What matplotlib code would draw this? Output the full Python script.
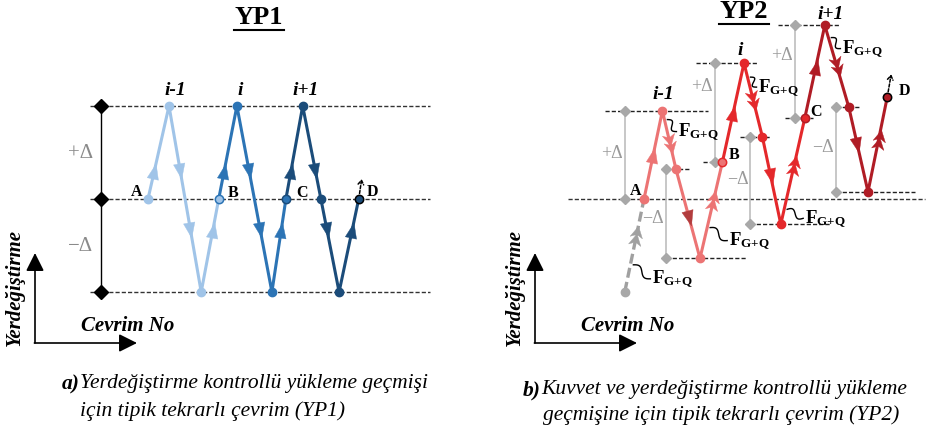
import numpy as np
import matplotlib.pyplot as plt
from matplotlib.path import Path
from matplotlib.markers import MarkerStyle
from matplotlib.transforms import Affine2D, offset_copy

plt.rcParams['font.family'] = ['Liberation Serif', 'DejaVu Serif']
plt.rcParams['mathtext.fontset'] = 'custom'
plt.rcParams['mathtext.rm'] = 'Liberation Serif'
plt.rcParams['mathtext.bf'] = 'Liberation Serif:bold'

W, H = 926, 431

# YP1 - yerdegistirme kontrollu: t = cevrim, d = yerdegistirme (Delta cinsinden)
yp1_t = [0.00, 0.30, 0.76, 1.01, 1.27, 1.77, 1.97, 2.21, 2.73, 3.01]
yp1_d = [0, 1, -1, 0, 1, -1, 0, 1, -1, 0]
yp1_levels = [1, 0, -1]
yp1_arrow_lv = [0.30, -0.33]
yp1_colors = ['#a0c4e8', '#2c74b5', '#1b4c7a']
yp1_points = ['A', 'B', 'C', 'D']
yp1_peaks = ['i-1', 'i', 'i+1']

# YP2 - kuvvet ve yerdegistirme kontrollu
yp2_t = [0.00, 0.23, 0.40, 0.70, 0.98, 1.25, 1.48, 1.71, 2.01, 2.26, 2.56, 2.80, 3.04]
yp2_d = [0.00, 0.98, 0.33, -0.66, 0.41, 1.51, 0.69, -0.28, 0.90, 1.93, 1.02, 0.08, 1.13]
yp2_start = (-0.24, -1.03)
yp2_colors = ['#ec7474', '#e4282b', '#b01c25']
yp2_kind = ['d', 'f', 'd', 'f'] * 3          # d: yerdegistirme, f: kuvvet kontrollu
yp2_arrow_frac = [0.5, 0.55, 0.55, 0.6, 0.5, 0.5, 0.45, 0.55, 0.55, 0.5, 0.45, 0.55]
yp2_ref_t = [-0.24, 0.275, 0.89, 1.33, 1.89, 2.40]
yp2_ref_top = [(-0.49, 0.80), (0.275, 0.59), (0.65, 1.43), (1.20, 1.58), (1.68, 2.45), (2.40, 2.70)]
yp2_ref_bot = [None, (0.275, 1.275), (0.74, 1.03), (1.33, 2.34), (1.76, 2.11), (2.40, 3.39)]
yp2_ref_lbl = [0.53, 0.46, 0.77, 0.52, 0.69, 0.54]
# F_G+Q etiketleri: (segment, oran, dx, dy)  segment -1 = baslangic kolu
yp2_force_lbl = [(1, 0.15, 14, -12), (5, 0.19, 11, -10), (9, 0.15, 14, -11),
                 (7, 0.14, 21, -9), (3, 0.32, 22, -13), (-1, 0.29, 22, -14)]

MV, LN, CL = Path.MOVETO, Path.LINETO, Path.CLOSEPOLY
SINGLE = Path([(1, 0), (-1, 0.75), (-1, -0.75), (1, 0)], [MV, LN, LN, CL])
DOUBLE = Path([(1, 0), (-0.1, 0.6), (0.2, 0), (-0.1, -0.6), (1, 0),
               (0.25, 0), (-0.85, 0.6), (-0.55, 0), (-0.85, -0.6), (0.25, 0)],
              [MV, LN, LN, LN, CL, MV, LN, LN, LN, CL])

fig = plt.figure(figsize=(W / 100, H / 100), dpi=100)


def panel(x0, y0, sx, sy):
    ax = fig.add_axes([0, 0, 1, 1])
    ax.set_xlim(-x0 / sx, (W - x0) / sx)
    ax.set_ylim((y0 - H) / sy, y0 / sy)
    ax.axis('off')
    ax.patch.set_alpha(0)
    return ax


def head(ax, p0, p1, f, color, size, path=SINGLE):
    a = ax.transData.transform(p0)
    b = ax.transData.transform(p1)
    ang = np.degrees(np.arctan2(b[1] - a[1], b[0] - a[0]))
    x = p0[0] + f * (p1[0] - p0[0])
    y = p0[1] + f * (p1[1] - p0[1])
    ax.plot(x, y, ls='none', marker=MarkerStyle(path, transform=Affine2D().rotate_deg(ang)),
            ms=size, color=color, mec=color, mew=0.3, zorder=5)


def up_arrow(ax, p, dx, dy):
    tip = offset_copy(ax.transData, fig=fig, x=dx, y=dy, units='dots')
    ax.annotate('', xy=p, xycoords=tip, xytext=p, textcoords='data',
                arrowprops=dict(arrowstyle='->,head_length=0.3,head_width=0.2',
                                lw=1.1, ls=(0, (2, 1.2)), color='k', shrinkA=4, shrinkB=0))


lay = panel(0, 0, 1, -1)
ax1 = panel(148, 200, 70, 93)
ax2 = panel(644, 200, 80, 90)

# ---------------- YP1 ----------------
for lv in yp1_levels:
    ax1.plot([-0.83, 4.03], [lv, lv], color='#333333', lw=1.0, dashes=(3, 1.5), zorder=1)
ax1.plot([-0.67, -0.67], [-1, 1], color='k', lw=1.0, zorder=2)
ax1.plot([-0.67] * 3, yp1_levels, 'D', color='k', ms=7.5, zorder=3)
ax1.text(-0.67, 0.5, '+Δ', transform=offset_copy(ax1.transData, fig=fig, x=-8, y=0, units='dots'),
         ha='right', va='center', fontsize=15, color='#8a8a8a')
ax1.text(-0.67, -0.5, '−Δ', transform=offset_copy(ax1.transData, fig=fig, x=-8, y=0, units='dots'),
         ha='right', va='center', fontsize=15, color='#8a8a8a')

for c in range(3):
    s = slice(3 * c, 3 * c + 4)
    ax1.plot(yp1_t[s], yp1_d[s], color=yp1_colors[c], lw=2.2, solid_capstyle='round', zorder=4)
    for k in range(3 * c, 3 * c + 3):
        p0, p1 = (yp1_t[k], yp1_d[k]), (yp1_t[k + 1], yp1_d[k + 1])
        for lv in yp1_arrow_lv:
            if min(p0[1], p1[1]) < lv < max(p0[1], p1[1]):
                head(ax1, p0, p1, (lv - p0[1]) / (p1[1] - p0[1]), yp1_colors[c], 11)
    for k in (3 * c + 1, 3 * c + 2):
        ax1.plot(yp1_t[k], yp1_d[k], 'o', color=yp1_colors[c], ms=6, zorder=6)

# sifir gecisi (i+1 inis kolu)
tz = yp1_t[7] + (yp1_t[8] - yp1_t[7]) * (0 - yp1_d[7]) / (yp1_d[8] - yp1_d[7])
ax1.plot(tz, 0, 'o', color=yp1_colors[2], ms=6, zorder=6)

edge1 = [yp1_colors[0], yp1_colors[1], yp1_colors[2], 'k']
fill1 = [yp1_colors[0], yp1_colors[0], yp1_colors[1], yp1_colors[2]]
offs1 = [(-11, 8), (14, 7), (16, 7), (14, 8)]
for j, name in enumerate(yp1_points):
    k = 3 * j
    ax1.plot(yp1_t[k], yp1_d[k], 'o', mfc=fill1[j], mec=edge1[j], mew=1.1, ms=6, zorder=6)
    ax1.annotate(name, (yp1_t[k], yp1_d[k]), xytext=offs1[j], textcoords='offset pixels',
                 ha='center', va='center', fontsize=11.5, fontweight='bold')
up_arrow(ax1, (yp1_t[9], yp1_d[9]), 3, 20)

for j, name in enumerate(yp1_peaks):
    k = 3 * j + 1
    ax1.annotate(name, (yp1_t[k], yp1_d[k]), xytext=((6, 3, 3)[j], 17), textcoords='offset pixels',
                 ha='center', va='center', fontsize=14, fontweight='bold', fontstyle='italic')

# ---------------- YP2 ----------------
ax2.plot([-0.95, 3.51], [0, 0], color='#333333', lw=1.0, dashes=(3, 1.5), zorder=1)
for r in range(6):
    i0, i1 = 2 * r, 2 * r + 1
    lo, hi = sorted([yp2_d[i0], yp2_d[i1]])
    x = yp2_ref_t[r]
    ax2.plot([x, x], [lo, hi], color='#bdbdbd', lw=1.2, zorder=2)
    ax2.plot([x, x], [lo, hi], 'D', color='#a8a8a8', ms=5.5, zorder=3)
    ax2.plot(yp2_ref_top[r], [hi, hi], color='#222222', lw=1.0, dashes=(3, 1.5), zorder=1)
    if yp2_ref_bot[r] is not None:
        ax2.plot(yp2_ref_bot[r], [lo, lo], color='#222222', lw=1.0, dashes=(3, 1.5), zorder=1)
    sign = '+Δ' if yp2_d[i1] > yp2_d[i0] else '−Δ'
    ax2.text(x, lo + yp2_ref_lbl[r] * (hi - lo), sign,
             transform=offset_copy(ax2.transData, fig=fig, x=-2, y=0, units='dots'),
             ha='right', va='center', fontsize=13, color='#999999')

# baslangic kolu (gri, kesikli)
ax2.plot([yp2_start[0], yp2_t[0]], [yp2_start[1], yp2_d[0]], color='#a0a0a0', lw=2.4,
         dashes=(3, 1.3), zorder=3)
head(ax2, yp2_start, (yp2_t[0], yp2_d[0]), 0.6, '#a0a0a0', 15, DOUBLE)
ax2.plot(*yp2_start, 'o', color='#a8a8a8', ms=6, zorder=6)

arrow_col = {2: '#b23c3d'}
for c in range(3):
    s = slice(4 * c, 4 * c + 5)
    ax2.plot(yp2_t[s], yp2_d[s], color=yp2_colors[c], lw=2.2, solid_capstyle='round', zorder=4)
    for k in range(4 * c, 4 * c + 4):
        p0, p1 = (yp2_t[k], yp2_d[k]), (yp2_t[k + 1], yp2_d[k + 1])
        col = arrow_col.get(k, yp2_colors[c])
        if yp2_kind[k] == 'f':
            head(ax2, p0, p1, yp2_arrow_frac[k], col, 15, DOUBLE)
        else:
            head(ax2, p0, p1, yp2_arrow_frac[k], col, 11)
    for k in range(4 * c + 1, 4 * c + 4):
        ax2.plot(yp2_t[k], yp2_d[k], 'o', color=yp2_colors[c], ms=6, zorder=6)

edge2 = [yp2_colors[0], yp2_colors[1], yp2_colors[2], 'k']
fill2 = [yp2_colors[0], yp2_colors[0], yp2_colors[1], yp2_colors[2]]
offs2 = [(-8, 9), (12, 8), (11, 7), (17, 7)]
for j, name in enumerate(yp1_points):
    k = 4 * j
    ax2.plot(yp2_t[k], yp2_d[k], 'o', mfc=fill2[j], mec=edge2[j], mew=1.1, ms=6, zorder=6)
    ax2.annotate(name, (yp2_t[k], yp2_d[k]), xytext=offs2[j], textcoords='offset pixels',
                 ha='center', va='center', fontsize=11.5, fontweight='bold')
up_arrow(ax2, (yp2_t[12], yp2_d[12]), 4, 23)

for j, name in enumerate(yp1_peaks):
    k = 4 * j + 1
    ax2.annotate(name, (yp2_t[k], yp2_d[k]), xytext=[(1, 17), (-4, 14), (6, 12)][j],
                 textcoords='offset pixels', ha='center', va='center',
                 fontsize=14, fontweight='bold', fontstyle='italic')

# F_G+Q etiketleri ve kivrimli gosterge cizgileri
for seg, f, dx, dy in yp2_force_lbl:
    if seg < 0:
        p0, p1 = yp2_start, (yp2_t[0], yp2_d[0])
    else:
        p0, p1 = (yp2_t[seg], yp2_d[seg]), (yp2_t[seg + 1], yp2_d[seg + 1])
    anc = (p0[0] + f * (p1[0] - p0[0]), p0[1] + f * (p1[1] - p0[1]))
    a = ax2.transData.transform(anc) + np.array([3.0, 0.0])
    b = ax2.transData.transform(anc) + np.array([dx - 2.0, dy])
    s = np.linspace(0, 1, 30)
    v = b - a
    n = np.array([-v[1], v[0]]) / np.hypot(*v)
    pts = a + np.outer(s, v) + np.outer(3.0 * np.sin(2 * np.pi * s), n)
    pts = ax2.transData.inverted().transform(pts)
    ax2.plot(pts[:, 0], pts[:, 1], color='k', lw=1.0, zorder=5)
    ax2.annotate(r'$\mathbf{F_{G{+}Q}}$', anc, xytext=(dx, dy), textcoords='offset pixels',
                 ha='left', va='center', fontsize=13.5)

# ---------------- basliklar, eksen oklari, alt yazilar ----------------
for x, y, name in [(259, 18, 'YP1'), (744, 12, 'YP2')]:
    lay.text(x, y, name, ha='center', va='center', fontsize=19, fontweight='bold')
    lay.plot([x - 25, x + 25], [y + 13, y + 13], color='k', lw=1.5)

for x0 in (35, 535):
    ap = dict(arrowstyle='-|>,head_length=1.1,head_width=0.55', lw=1.2, color='k',
              shrinkA=0, shrinkB=0)
    lay.annotate('', xy=(x0, 254), xytext=(x0, 344), arrowprops=ap)
    lay.annotate('', xy=(x0 + 102, 344), xytext=(x0 - 0.6, 344), arrowprops=ap)
    lay.text(x0 - 20, 288, 'Yerdeğiştirme', rotation=90, ha='center', va='center',
             fontsize=15, fontweight='bold', fontstyle='italic')
    lay.text(x0 + 93, 326, 'Cevrim No', ha='center', va='center',
             fontsize=15, fontweight='bold', fontstyle='italic')

cap = dict(va='center', fontsize=15.5, fontstyle='italic')
lay.text(62, 384, 'a)', fontweight='bold', **cap)
lay.text(80, 384, 'Yerdeğiştirme kontrollü yükleme geçmişi', **cap)
lay.text(80, 411, 'için tipik tekrarlı çevrim (YP1)', **cap)
lay.text(523, 390, 'b)', fontweight='bold', **cap)
lay.text(541, 390, 'Kuvvet ve yerdeğiştirme kontrollü yükleme', **cap)
lay.text(543, 415, 'geçmişine için tipik tekrarlı çevrim (YP2)', **cap)

fig.savefig('out.png', dpi=100)
